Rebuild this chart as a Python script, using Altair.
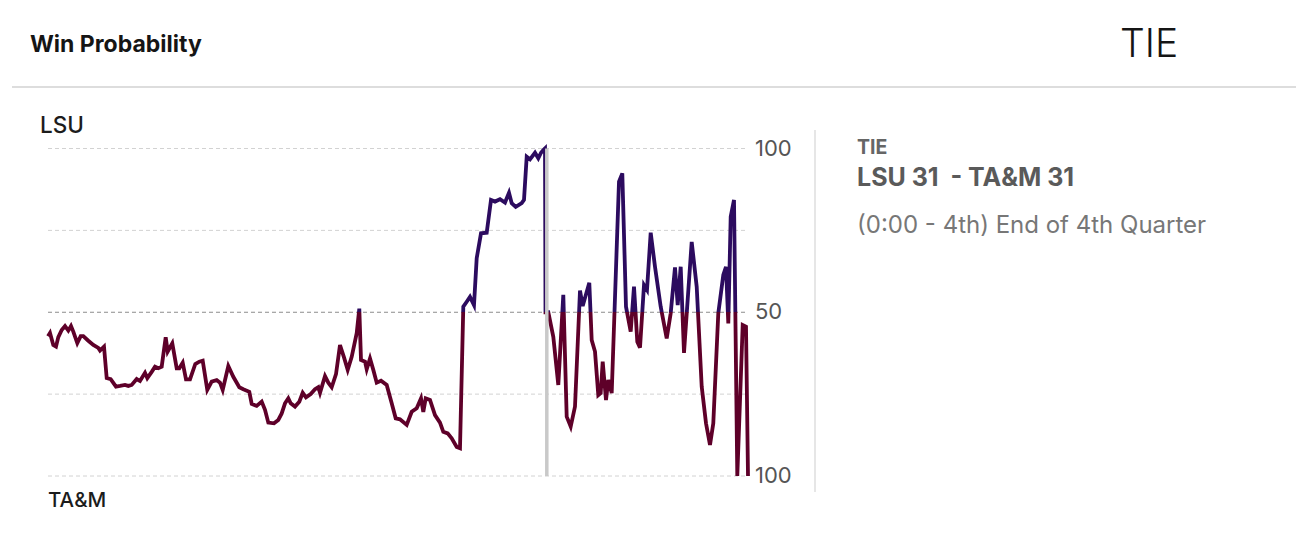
import altair as alt
import pandas as pd

# ---------------- data ----------------
play = [0, 2, 5.3, 8, 10.3, 13.7, 17, 20.3, 23, 25.3,
        29.3, 32.7, 35.3, 40.3, 45.3, 50.3, 52, 56, 58.7, 62.7,
        68, 72, 77, 80.3, 83.7, 88.7, 92, 97, 99.3, 103.7,
        107, 110.3, 113.7, 117.7, 119.7, 124.3, 128.7, 131.3, 134.7, 138,
        142, 147.3, 151.3, 154.7, 159.3, 163.7, 168.7, 172, 174.7, 180.3,
        185.3, 191.3, 195.3, 201.3, 203.7, 208.7, 213.7, 217, 220.3, 226,
        230.3, 233.7, 237, 240.3, 242.7, 247, 251.3, 254.7, 258, 262.7,
        267, 270.3, 272, 277, 280.3, 283.7, 288, 292, 296, 299.7,
        303.7, 308.7, 311.3, 313, 317, 318.7, 322, 325.3, 328.7, 333,
        338.7, 343.7, 347.7, 352, 358.7, 363.7, 368.7, 373, 375.3, 377.7,
        382, 387, 392, 395.3, 399.7, 403.7, 408.7, 412, 415.3, 418.7,
        422, 426, 428.7, 433, 438.7, 443, 447, 452, 457, 461,
        463.7, 467.7, 473.7, 476, 478.7, 482, 487, 490.3, 493, 495.3,
        497, 497.5, 500.3, 505.3, 510.3, 515.3, 518.7, 522.7, 527, 532,
        534.7, 541.3, 543.7, 547, 550.3, 552.7, 554.7, 558, 560.3, 563.7,
        571, 574.3, 578, 582.7, 586, 589.3, 592, 596, 599, 602.7,
        607, 612.7, 618.7, 622.7, 627, 629.7, 632.7, 636, 643.7, 648.7,
        653.7, 658, 662, 665.3, 670.3, 675.3, 678, 680.3, 682.7, 686,
        689.3, 694.7, 698, 700]

lsu_win_pct = [42.7, 43.7, 40.0, 39.5, 42.4, 44.6, 45.8, 44.4, 45.8, 44.1,
               40.6, 42.7, 42.7, 41.3, 40.0, 39.1, 38.3, 39.5, 29.9, 29.6,
               27.3, 27.5, 27.8, 27.5, 27.8, 29.6, 29.0, 31.5, 29.9, 31.8,
               33.4, 32.9, 33.4, 42.4, 38.0, 40.5, 32.9, 32.9, 34.6, 29.5,
               29.5, 34.2, 34.9, 35.2, 26.3, 28.8, 29.3, 28.5, 26.3, 33.6,
               30.3, 27.1, 26.5, 25.7, 22.0, 21.4, 22.7, 20.2, 16.3, 16.1,
               17.1, 19.1, 22.2, 23.7, 22.2, 21.2, 22.7, 25.4, 24.0, 25.0,
               26.5, 27.1, 25.4, 30.5, 28.5, 27.1, 31.1, 40.0, 36.2, 32.4,
               36.4, 43.6, 51.1, 35.4, 34.9, 32.6, 35.9, 32.4, 28.5, 29.1,
               27.8, 22.2, 17.6, 17.3, 15.6, 19.6, 20.7, 23.7, 19.6, 23.7,
               23.2, 18.6, 16.3, 13.5, 13.0, 11.5, 8.9, 8.5, 51.7, 53.2,
               54.7, 52.2, 66.5, 74.1, 74.3, 84.3, 83.8, 84.5, 83.5, 86.5,
               83.3, 82.2, 83.3, 84.3, 97.5, 96.7, 98.7, 97.0, 98.7, 99.5,
               100, 50, 50, 42.5, 27.8, 55.3, 18.1, 15.1, 21.2, 56.6,
               51.9, 59.0, 41.5, 38.0, 24.7, 25.3, 34.9, 23.2, 29.3, 25.3,
               89.9, 92.4, 51.7, 44.1, 57.8, 41.0, 39.2, 58.3, 56.8, 74.3,
               63.9, 51.7, 42.0, 49.7, 63.7, 52.2, 63.9, 37.6, 71.5, 57.8,
               27.3, 16.1, 9.5, 16.1, 49.7, 61.4, 63.9, 46.6, 79.2, 84.3,
               0, 46.1, 45.6, 0]

grid_values = [0, 25, 50, 75, 100]
tick_values = [100, 50, 0]
tick_labels = ["100", "50", "100"]
end_of_regulation = [498.8]

header_title = ["Win Probability"]
header_status = ["TIE"]
team_top = ["LSU"]
team_bottom = ["TA&M"]
info_status = ["TIE"]
info_score = ["LSU 31\u00a0 - TA&M 31"]
info_play = ["(0:00 - 4th) End of 4th Quarter"]

PURPLE = "#2c0b5f"
MAROON = "#5e0029"
FONT = "Inter"

df = pd.DataFrame({"play": play, "wp": lsu_win_pct})
grid_df = pd.DataFrame({"v": grid_values})
tick_df = pd.DataFrame({"v": tick_values, "label": tick_labels})
reg_df = pd.DataFrame({"play": end_of_regulation})

xs = alt.Scale(domain=[0, 700], range=[40, 740], nice=False, zero=False)
ys = alt.Scale(domain=[0, 100], range=[468, 140.5], nice=False, zero=False)

W, H = 1288, 530


def text_layer(values, x, y, size, weight, color, align="left", baseline="alphabetic"):
    return alt.Chart(pd.DataFrame({"t": values})).mark_text(
        align=align, baseline=baseline, font=FONT, fontSize=size,
        fontWeight=weight, color=color
    ).encode(x=alt.value(x), y=alt.value(y), text="t:N")


header = text_layer(header_title, 22, 44, 23, 700, "#151515")
status = text_layer(header_status, 1112, 49, 39, 300, "#151515")
top_label = text_layer(team_top, 32, 125, 22.5, 500, "#1c1c1c")
bottom_label = text_layer(team_bottom, 40, 499, 20.5, 500, "#1c1c1c")
info1 = text_layer(info_status, 849, 146, 19.5, 700, "#666666")
info2 = text_layer(info_score, 849, 178, 25, 700, "#5a5a5a")
info3 = text_layer(info_play, 849, 225, 24, 400, "#777777")

header_rule = alt.Chart(pd.DataFrame({"t": [0]})).mark_rule(
    color="#dddddd", strokeWidth=2
).encode(x=alt.value(4), x2=alt.value(W), y=alt.value(79))

separator = alt.Chart(pd.DataFrame({"t": [0]})).mark_rule(
    color="#e6e6e6", strokeWidth=2
).encode(x=alt.value(807), y=alt.value(122), y2=alt.value(484))

grid = alt.Chart(grid_df).mark_rule(strokeWidth=1, strokeDash=[4, 3]).encode(
    y=alt.Y("v:Q", scale=ys, axis=None),
    x=alt.value(40), x2=alt.value(740),
    color=alt.condition(alt.datum.v == 50, alt.value("#8c8c8c"), alt.value("#d2d2d2")),
)

ticks = alt.Chart(tick_df).mark_text(
    align="left", baseline="middle", font=FONT, fontSize=22, color="#555555"
).encode(
    y=alt.Y("v:Q", scale=ys, axis=None),
    x=alt.value(747),
    text="label:N",
)

grad = alt.Gradient(
    gradient="linear", x1=0, x2=0, y1=0, y2=1,
    stops=[
        alt.GradientStop(color=PURPLE, offset=0),
        alt.GradientStop(color=PURPLE, offset=0.5),
        alt.GradientStop(color=MAROON, offset=0.5),
        alt.GradientStop(color=MAROON, offset=1),
    ],
)

line = alt.Chart(df).mark_line(stroke=grad, strokeWidth=3.8).encode(
    x=alt.X("play:Q", scale=xs, axis=None),
    y=alt.Y("wp:Q", scale=ys, axis=None),
    order="play:Q",
)

reg_rule = alt.Chart(reg_df).mark_rule(color="#c9c9c9", strokeWidth=3.5).encode(
    x=alt.X("play:Q", scale=xs, axis=None),
    y=alt.value(140.5), y2=alt.value(468),
)

chart = alt.layer(
    header_rule, separator, grid, ticks, line, reg_rule,
    header, status, top_label, bottom_label, info1, info2, info3,
).properties(
    width=W, height=H, padding=0, autosize=alt.AutoSizeParams(type="none"),
    background="white",
).configure_view(stroke=None)

chart.save("out.html", embed_options={"renderer": "svg", "actions": False})
